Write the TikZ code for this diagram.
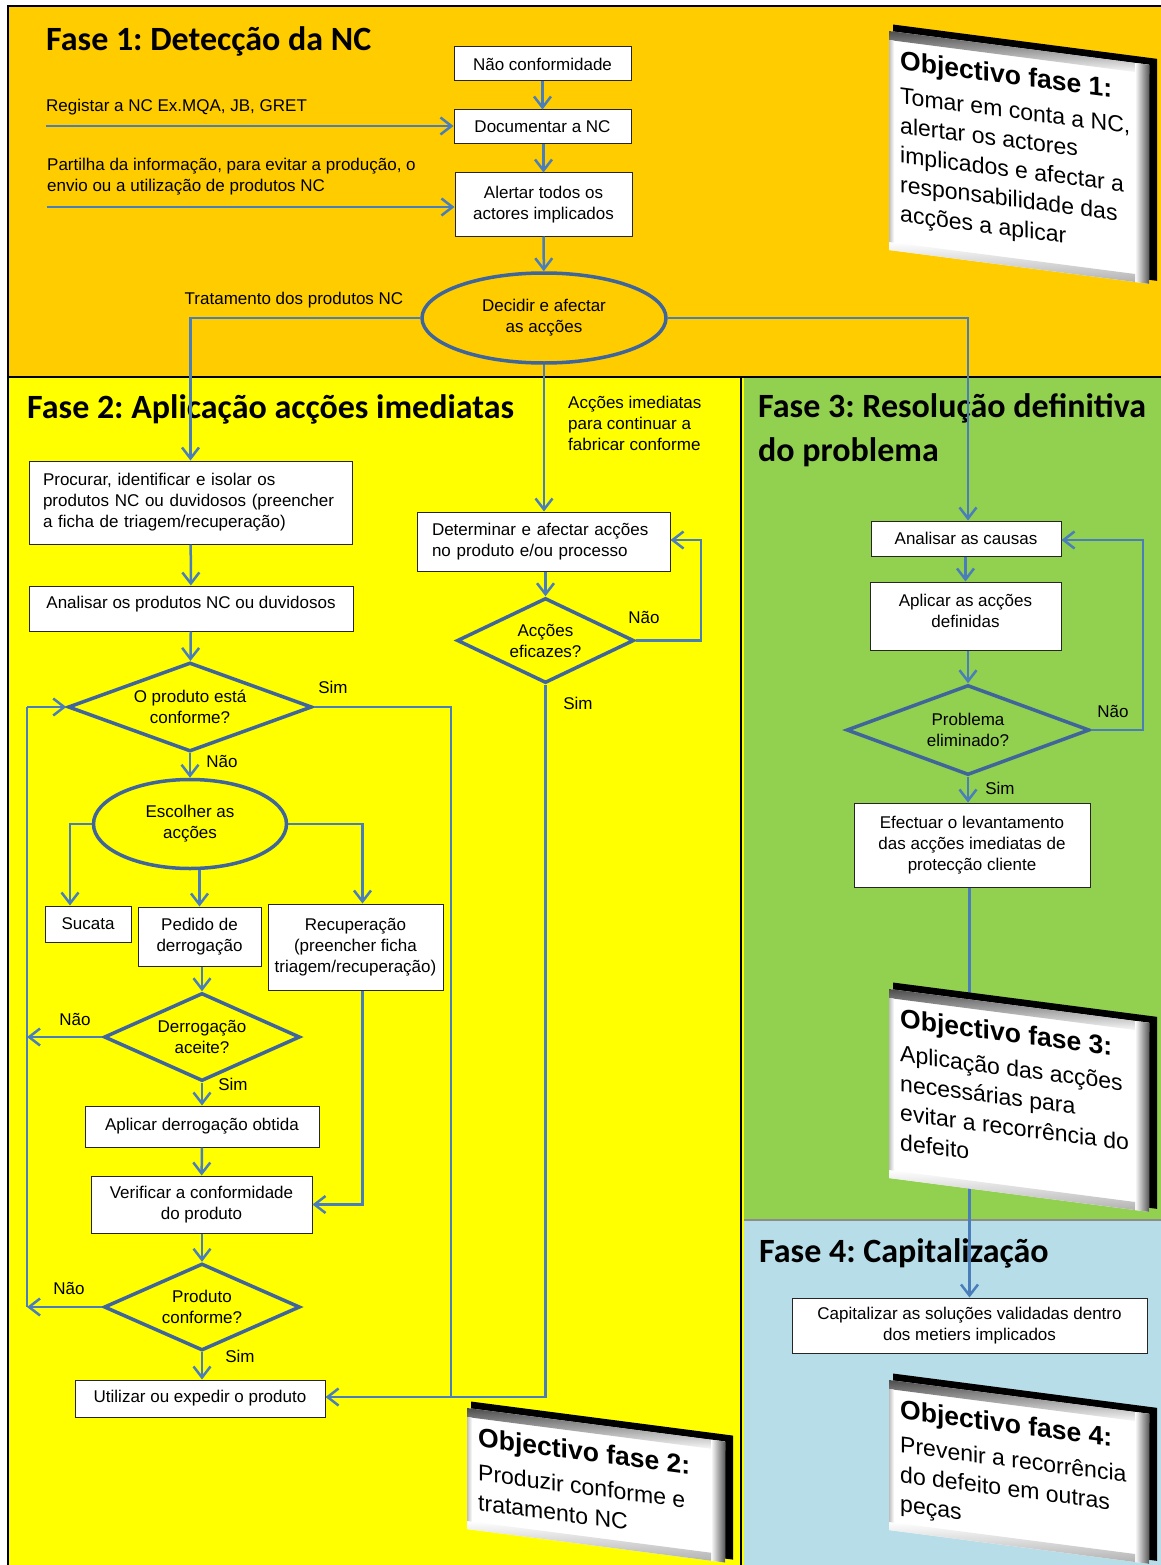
\documentclass[tikz,border=0pt]{standalone}
\usepackage{fontspec}
\setmainfont{Liberation Sans}
\newfontfamily\titlefont{Carlito}
\usetikzlibrary{shapes.geometric,arrows.meta,calc}

\definecolor{phaseA}{HTML}{FFCC00}
\definecolor{phaseB}{HTML}{FFFF00}
\definecolor{phaseC}{HTML}{92D050}
\definecolor{phaseD}{HTML}{B7DEE8}
\definecolor{edgeblue}{HTML}{4A7EBB}
\definecolor{shapeblue}{HTML}{3F659B}

\newcommand\boxfont{\fontsize{17}{21}\selectfont}
\newcommand\phasefont{\titlefont\bfseries\fontsize{34}{43}\selectfont}
\frenchspacing

\tikzset{
  stepbox/.style={draw=black!85, line width=1, fill=white, font=\boxfont, align=center, inner sep=2},
  decision/.style={diamond, draw=shapeblue, line width=3.5, font=\boxfont, align=center, inner sep=0},
  choice/.style={ellipse, draw=shapeblue, line width=3.5, font=\boxfont, align=center, inner sep=0},
  flow/.style={draw=edgeblue, line width=2.5, -{Straight Barb[length=11pt,width=17pt]}},
  plainflow/.style={draw=edgeblue, line width=2.5},
  lbl/.style={font=\boxfont, inner sep=0},
  phase/.style={font=\phasefont, inner sep=0, anchor=base west},
  objtext/.style={font=\fontsize{23}{29.5}\selectfont, align=left, inner sep=0},
}

% sheared note card: x, y, width, height, name, heading, body
\newcommand\objbox[7]{%
  \begin{scope}[shift={(#1,#2)}, cm={1,-0.13,0,1,(0,0)}, transform shape]
    \fill[black] (4,-4) rectangle (#3,#4-4);
    \fill[white] (0,3) rectangle (#3-8,#4);
    \shade[top color=black!70, bottom color=white] (0,3) rectangle (#3-8,12);
    \shade[left color=white, right color=black!65] (#3-22,3) rectangle (#3-8,#4);
    \shade[top color=white, bottom color=black!30] (0,#4-8) rectangle (#3-22,#4);
    \shade[left color=black!25, right color=white] (0,12) rectangle (5,#4-8);
    \node[objtext, anchor=north west] (#5) at (11,21)
      {{\bfseries\fontsize{26.5}{26.5}\selectfont #6}\\[4.5pt]#7};
  \end{scope}}

\begin{document}
\begin{tikzpicture}[x=1pt,y=-1pt]
\useasboundingbox (0,0) rectangle (1161,1565);

% phase areas
\fill[white] (0,0) rectangle (1161,1565);
\fill[phaseA] (8,6) rectangle (1161,377);
\fill[phaseB] (8,377) rectangle (744,1565);
\fill[phaseC] (744,377) rectangle (1161,1220);
\fill[phaseD] (744,1220) rectangle (1161,1565);
\draw[black, line width=1.5] (8,1565) -- (8,6) -- (1161,6);
\draw[black, line width=1.5] (8,377) -- (1161,377);
\draw[black, line width=1.2] (741,377) -- (741,1565);
\draw[black!45, line width=1.2] (744,1220) -- (1161,1220);

% phase titles
\node[phase] (ph1) at (46,51) {Fase 1: Detecção da NC};
\node[phase] (ph2) at (27,418) {Fase 2: Aplicação acções imediatas};
\node[phase] (ph3a) at (758,417) {Fase 3: Resolução definitiva};
\node[phase] (ph3b) at (758,461) {do problema};
\node[phase] (ph4) at (759,1262) {Fase 4: Capitalização};

% phase 1
\node[stepbox, minimum width=177, minimum height=34] (nc) at (542.5,64) {Não conformidade};
\node[stepbox, minimum width=177, minimum height=34] (doc) at (542.5,127) {Documentar a NC};
\node[stepbox, minimum width=177, minimum height=63] (alert) at (543.5,204.5) {Alertar todos os\\actores implicados};
\node[choice, minimum width=244, minimum height=90] (decide) at (544,318) {Decidir e afectar\\as acções};

\node[lbl, anchor=west] (treg) at (46,107) {Registar a NC Ex.MQA, JB, GRET};
\node[lbl, anchor=west, align=left] (tpart) at (47,177)
  {Partilha da informação, para evitar a produção, o\\envio ou a utilização de produtos NC};
\coordinate (reg0) at (46,126);
\coordinate (part0) at (47,207);
\node[lbl] (ttrat) at (294,300) {Tratamento dos produtos NC};
\node[lbl, anchor=west, align=left] (timed) at (568,423.5)
  {Acções imediatas\\para continuar a\\fabricar conforme};

% phase 2
\node[stepbox, align=left, minimum width=323, minimum height=83, text width=295, inner xsep=14] (proc) at (190.5,502.5)
  {Procurar, identificar e isolar os\\produtos NC ou duvidosos (preencher\\a ficha de triagem/recuperação)};
\node[stepbox, minimum width=324, minimum height=45, text depth=12] (anal) at (191,608.5) {Analisar os produtos NC ou duvidosos};
\node[decision, aspect=2.74, minimum width=244, minimum height=89] (conf) at (190,707) {O produto está\\conforme?};
\node[choice, minimum width=193, minimum height=89] (escolher) at (190,824) {Escolher as\\acções};
\node[stepbox, minimum width=86, minimum height=36] (sucata) at (88,924) {Sucata};
\node[stepbox, minimum width=123, minimum height=59] (pedido) at (199.5,936.5) {Pedido de\\derrogação};
\node[stepbox, minimum width=175, minimum height=86] (recup) at (355.5,947) {Recuperação\\(preencher ficha\\triagem/recuperação)};
\node[decision, aspect=2.23, minimum width=196, minimum height=88] (derr) at (202,1037) {Derrogação\\aceite?};
\node[stepbox, minimum width=234, minimum height=41] (aplder) at (202,1126.5) {Aplicar derrogação obtida};
\node[stepbox, minimum width=221, minimum height=57] (verif) at (201.5,1204.5) {Verificar a conformidade\\do produto};
\node[decision, aspect=2.25, minimum width=196, minimum height=87] (prodconf) at (202,1307) {Produto\\conforme?};
\node[stepbox, minimum width=250, minimum height=37] (util) at (200,1398.5) {Utilizar ou expedir o produto};

\node[stepbox, align=left, minimum width=253, minimum height=59, text width=223, inner xsep=15] (determ) at (543.5,541.5)
  {Determinar e afectar acções\\no produto e/ou processo};
\node[decision, aspect=2.08, minimum width=177, minimum height=85] (eficaz) at (545.5,640.5) {Acções\\eficazes?};

\node[lbl] (s1) at (333,687) {Sim};
\node[lbl] (n1) at (222,761) {Não};
\node[lbl] (n2) at (75,1019) {Não};
\node[lbl] (s2) at (233,1084) {Sim};
\node[lbl] (n3) at (69,1288) {Não};
\node[lbl] (s3) at (240,1356) {Sim};
\node[lbl] (n4) at (644,617) {Não};
\node[lbl] (s4) at (578,703) {Sim};

% phase 3
\node[stepbox, minimum width=190, minimum height=35] (causas) at (966,538.5) {Analisar as causas};
\node[stepbox, minimum width=191, minimum height=68, text depth=11] (aplac) at (965.5,616) {Aplicar as acções\\definidas};
\node[decision, aspect=2.7, minimum width=243, minimum height=90] (elim) at (968,730) {Problema\\eliminado?};
\node[stepbox, minimum width=236, minimum height=84] (efect) at (972,845)
  {Efectuar o levantamento\\das acções imediatas de\\protecção cliente};
\node[lbl] (n5) at (1113,711) {Não};
\node[lbl] (s5) at (1000,788) {Sim};

% phase 4
\node[stepbox, minimum width=355, minimum height=55] (capit) at (969.5,1325.5)
  {Capitalizar as soluções validadas dentro\\dos metiers implicados};

% connectors, phase 1
\draw[flow] (nc) -- (doc);
\draw[flow] (alert.north |- doc.south) -- (alert.north);
\draw[flow] (alert) -- (decide);
\draw[flow] (reg0) -- (reg0 -| doc.west);
\draw[flow] (part0) -- (part0 -| alert.west);
\draw[flow] (decide.west) -| (proc.north);
\draw[flow] (decide.east) -| ($(causas.north)+(2,0)$);
\draw[flow] (decide.south) -- (decide.south |- determ.north);

% connectors, phase 2
\coordinate (loopx) at (27,707);
\coordinate (join) at (451,1397);
\coordinate (retry) at (701,540);
\draw[flow] (proc) -- (anal);
\draw[flow] (anal) -- (conf);
\draw[flow] (conf) -- (escolher);
\draw[flow] (escolher.west) -| ($(sucata.north)+(-18,0)$);
\draw[flow] (pedido.north |- escolher.south) -- (pedido.north);
\draw[flow] (escolher.east) -| ($(recup.north)+(7,0)$);
\draw[flow] (derr.north |- pedido.south) -- (derr.north);
\draw[flow] (derr) -- (aplder);
\draw[flow] (aplder) -- (verif);
\draw[flow] (verif.south -| prodconf.north) -- (prodconf.north);
\draw[flow] (prodconf.south) -- (prodconf.south |- util.north);
\draw[flow] ($(recup.south)+(7,0)$) |- (verif.east);
\draw[flow] (loopx) -- (conf.west);
\draw[plainflow] (loopx) -- (loopx |- prodconf.west);
\draw[flow] (derr.west) -- (derr.west -| loopx);
\draw[flow] (prodconf.west) -- (prodconf.west -| loopx);
\draw[flow] (conf.east) -| (join) -- (join -| util.east);
\draw[plainflow] (eficaz.south) |- (join);
\draw[flow] (determ.south -| eficaz.north) -- (eficaz.north);
\draw[flow] (eficaz.east) -| (retry) -- (retry -| determ.east);

% connectors, phase 3 and 4
\coordinate (redo) at (1143,540);
\draw[flow] (causas.south -| aplac.north) -- (aplac.north);
\draw[flow] (elim.north |- aplac.south) -- (elim.north);
\draw[flow] (elim.east) -| (redo) -- (redo -| causas.east);
\draw[flow] (elim.south) -- (elim.south |- efect.north);
\draw[flow] (capit.north |- efect.south) -- (capit.north);

% objective cards
\objbox{889}{28}{268}{222}{obj1}{Objectivo fase 1:}
  {Tomar em conta a NC,\\alertar os actores\\implicados e afectar a\\responsabilidade das\\acções a aplicar}
\objbox{467}{1405}{266}{124}{obj2}{Objectivo fase 2:}
  {Produzir conforme e\\tratamento NC}
\objbox{889}{986}{268}{192}{obj3}{Objectivo fase 3:}
  {Aplicação das acções\\necessárias para\\evitar a recorrência do\\defeito}
\objbox{889}{1377}{268}{153}{obj4}{Objectivo fase 4:}
  {Prevenir a recorrência\\do defeito em outras\\peças}
\end{tikzpicture}
\end{document}
